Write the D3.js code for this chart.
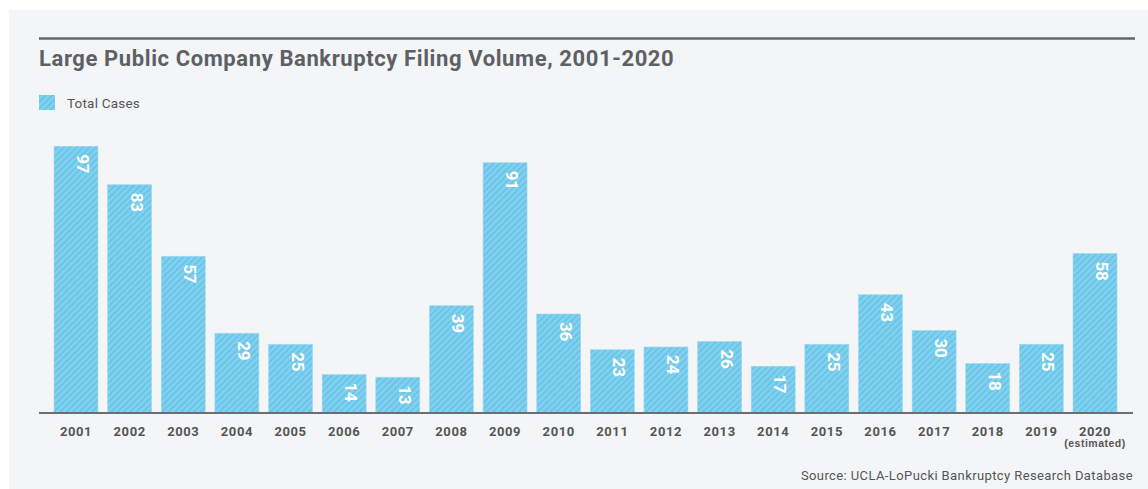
<!DOCTYPE html>
<html>
<head>
<meta charset="utf-8">
<script src="https://cdn.jsdelivr.net/npm/d3@7"></script>
<style>
  body { margin: 0; background: #fff; }
  svg { display: block; font-family: Roboto, "Liberation Sans", sans-serif; }
</style>
</head>
<body>
<svg id="chart" width="1148" height="489"></svg>
<script>
const years = ["2001","2002","2003","2004","2005","2006","2007","2008","2009","2010",
               "2011","2012","2013","2014","2015","2016","2017","2018","2019","2020"];
const totalCases = [97, 83, 57, 29, 25, 14, 13, 39, 91, 36, 23, 24, 26, 17, 25, 43, 30, 18, 25, 58];
const yearNotes = { "2020": "(estimated)" };

const svg = d3.select("#chart");

// panel background
svg.append("rect")
    .attr("x", 9).attr("y", 10)
    .attr("width", 1139).attr("height", 479)
    .attr("fill", "#f4f5f7");

// hatch pattern
const defs = svg.append("defs");
const pat = defs.append("pattern")
    .attr("id", "hatch")
    .attr("patternUnits", "userSpaceOnUse")
    .attr("width", 4.5).attr("height", 4.5)
    .attr("patternTransform", "rotate(45)");
pat.append("rect").attr("width", 4.5).attr("height", 4.5).attr("fill", "#80d1ef");
pat.append("rect").attr("width", 1.8).attr("height", 4.5).attr("fill", "#6bc3e6");

// top rule + title
svg.append("line")
    .attr("x1", 39).attr("x2", 1135)
    .attr("y1", 38.5).attr("y2", 38.5)
    .attr("stroke", "#63666a").attr("stroke-width", 2.5);

svg.append("text")
    .attr("x", 39).attr("y", 66)
    .attr("fill", "#5d6064")
    .style("font-size", "22px")
    .style("font-weight", "bold")
    .style("letter-spacing", "0.6px")
    .text("Large Public Company Bankruptcy Filing Volume, 2001-2020");

// legend
svg.append("rect")
    .attr("x", 39).attr("y", 95)
    .attr("width", 16).attr("height", 15)
    .attr("fill", "url(#hatch)");
svg.append("text")
    .attr("x", 67).attr("y", 107.5)
    .attr("fill", "#555")
    .style("font-size", "13.5px")
    .style("letter-spacing", "0.2px")
    .text("Total Cases");

const x = d3.scaleBand()
    .domain(years)
    .range([54, 1117])
    .paddingInner(0.18)
    .paddingOuter(0);

const y = d3.scaleLinear()
    .domain([0, 100])
    .range([413, 138]);

const data = years.map((yr, i) => ({ year: yr, value: totalCases[i] }));

const g = svg.append("g");

g.selectAll(".bar")
    .data(data)
    .enter()
    .append("rect")
    .attr("class", "bar")
    .attr("x", d => x(d.year))
    .attr("y", d => y(d.value))
    .attr("width", x.bandwidth())
    .attr("height", d => y(0) - y(d.value))
    .attr("fill", "url(#hatch)")
    .attr("stroke", "#9bdaf2")
    .attr("stroke-width", 0.6);

// value labels, rotated
g.selectAll(".val")
    .data(data)
    .enter()
    .append("text")
    .attr("class", "val")
    .attr("transform", d => `translate(${x(d.year) + x.bandwidth() - 21},${y(d.value) + 8}) rotate(90)`)
    .attr("fill", "#fff")
    .style("font-size", "17px")
    .style("font-weight", "bold")
    .style("letter-spacing", "-0.3px")
    .text(d => d.value);

// x axis
const xAxis = svg.append("g")
    .attr("transform", "translate(0,413)")
    .call(d3.axisBottom(x).tickSize(0).tickPadding(14));
xAxis.select(".domain")
    .attr("d", "M39,0H1133")
    .attr("stroke", "#6b6e72")
    .attr("stroke-width", 2);
xAxis.selectAll("text")
    .attr("fill", "#555")
    .style("font-size", "13px")
    .style("font-weight", "bold")
    .style("letter-spacing", "0.6px")
    .style("font-family", "Roboto, sans-serif");

xAxis.selectAll(".tick")
    .filter(d => yearNotes[d])
    .append("text")
    .attr("y", 34)
    .attr("text-anchor", "middle")
    .attr("fill", "#555")
    .style("font-size", "10.5px")
    .style("font-weight", "bold")
    .style("letter-spacing", "0.5px")
    .text(d => yearNotes[d]);

// source
svg.append("text")
    .attr("x", 1133).attr("y", 480)
    .attr("text-anchor", "end")
    .attr("fill", "#555")
    .style("font-size", "13px")
    .style("letter-spacing", "0.4px")
    .text("Source: UCLA-LoPucki Bankruptcy Research Database");
</script>
</body>
</html>
